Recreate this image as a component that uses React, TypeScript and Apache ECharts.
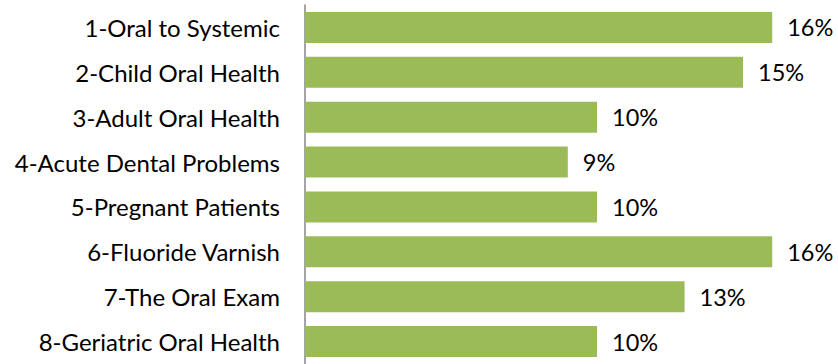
import React, { useEffect, useRef } from "react";
import * as echarts from "echarts";

const categories = [
  "1-Oral to Systemic",
  "2-Child Oral Health",
  "3-Adult Oral Health",
  "4-Acute Dental Problems",
  "5-Pregnant Patients",
  "6-Fluoride Varnish",
  "7-The Oral Exam",
  "8-Geriatric Oral Health",
];
const values = [16, 15, 10, 9, 10, 16, 13, 10];

export default function App() {
  const ref = useRef<HTMLDivElement>(null);
  useEffect(() => {
    if (!ref.current) return;
    const chart = echarts.init(ref.current, null, { renderer: "svg" });
    const font = "Lato, 'Open Sans', sans-serif";
    chart.setOption({
      animation: false,
      grid: { left: 305, top: 5, height: 360, width: 525.6 },
      xAxis: {
        type: "value",
        min: 0,
        max: 18,
        show: false,
      },
      yAxis: {
        type: "category",
        data: categories,
        inverse: true,
        axisLine: { show: true, lineStyle: { color: "#868686", width: 1.5 } },
        axisTick: { show: false },
        axisLabel: {
          margin: 25,
          color: "#000",
          fontFamily: font,
          fontSize: 24,
        },
      },
      series: [
        {
          type: "bar",
          data: values,
          barWidth: 31,
          itemStyle: { color: "#9BBB59" },
          label: {
            show: true,
            position: "right",
            distance: 15,
            formatter: "{c}%",
            color: "#000",
            fontFamily: font,
            fontSize: 23.5,
          },
        },
      ],
    });
    return () => chart.dispose();
  }, []);
  return (
    <div
      ref={ref}
      style={{ position: "fixed", left: 0, top: 0, width: 838, height: 364, background: "#fff" }}
    />
  );
}
